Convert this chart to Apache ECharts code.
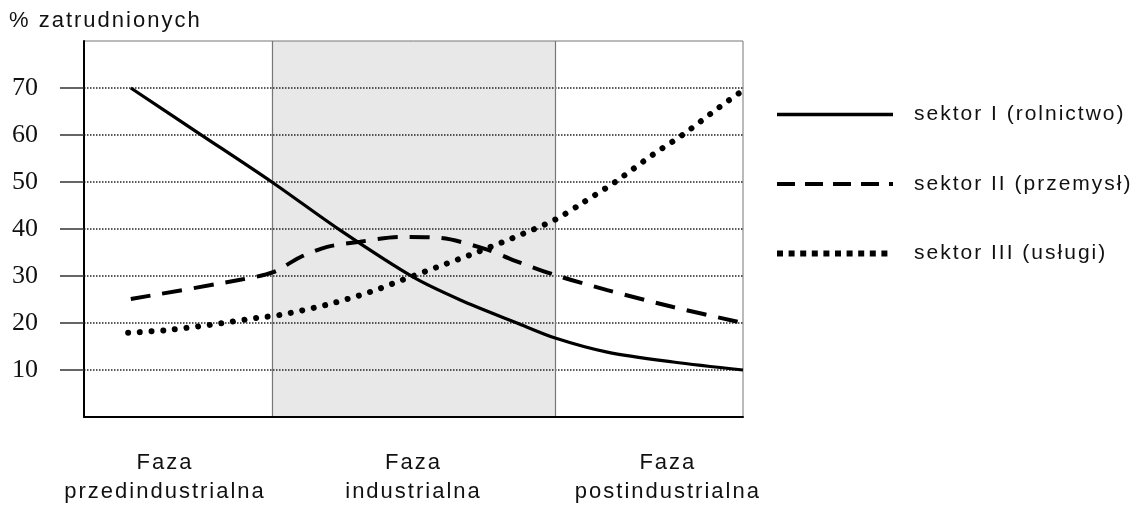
<!DOCTYPE html>
<html>
<head>
<meta charset="utf-8">
<script src="https://cdn.jsdelivr.net/npm/echarts@6/dist/echarts.min.js"></script>
<style>
html,body{margin:0;padding:0;background:#fff;}
#c{width:1140px;height:509px;}
</style>
</head>
<body>
<div id="c"></div>
<script>
// Data (x: position along the development axis, 0..100; y: % employed)
var yTicks = [10, 20, 30, 40, 50, 60, 70];
var phaseBounds = [28.5, 71.5];
var phasePos = [12.3, 50, 88.6];
var phaseLabels = ['Faza\nprzedindustrialna', 'Faza\nindustrialna', 'Faza\npostindustrialna'];
var seriesNames = ['sektor I (rolnictwo)', 'sektor II (przemysł)', 'sektor III (usługi)'];

var sektor1 = [[7.1,70],[17.6,60.2],[28.5,50],[38.8,39.8],[49.9,29.8],[57.1,24.9],[65.7,20.0],[71.5,16.8],[79.4,13.8],[89.4,11.7],[100,10]];
var sektor2 = [[7.1,25.1],[23.7,29.2],[28.7,30.8],[32.8,34],[36.9,36.2],[41.9,37.3],[48,38.3],[54,38.1],[61.2,35.6],[65.1,33.4],[71.5,30.2],[79.4,27],[89.4,23.4],[100,20]];
var sektor3 = [[6.7,17.9],[12.6,18.5],[19.1,19.6],[26.3,21.1],[29.7,21.7],[36.9,23.9],[43.4,26.6],[48.4,29.2],[53.6,31.9],[58.6,34.5],[65.1,38.1],[71.5,42],[75.7,45.6],[80.6,50],[86.3,55.8],[90.9,60.1],[96.5,66],[99.5,69]];

// Wide-tracked sans text like the original (canvas letter spacing for the sans labels)
(function () {
  var P = window.CanvasRenderingContext2D && CanvasRenderingContext2D.prototype;
  if (!P || !('letterSpacing' in P)) return;
  var ft = P.fillText, mt = P.measureText;
  function ls(ctx) { ctx.letterSpacing = /Liberation Sans/.test(ctx.font) ? '2px' : '0px'; }
  P.fillText = function () { ls(this); return ft.apply(this, arguments); };
  P.measureText = function () { ls(this); return mt.apply(this, arguments); };
})();

var SANS = 'Liberation Sans';
var chart = echarts.init(document.getElementById('c'), null, {renderer:'canvas'});
var option = {
  animation: false,
  backgroundColor: '#fff',
  textStyle: {fontFamily: SANS},
  grid: {left: 84, right: 397, top: 41, bottom: 92, show: true, z: 2, borderColor: '#777', borderWidth: 1, backgroundColor: 'transparent'},
  graphic: [{
    type: 'text', left: 9, top: 9,
    style: {text: '% zatrudnionych', fontFamily: SANS, fontSize: 22, fill: '#111'}
  }],
  legend: {
    orient: 'vertical', left: 769, top: 98,
    itemWidth: 116, itemHeight: 24, itemGap: 46.5,
    itemStyle: {opacity: 0},
    data: [
      {name: seriesNames[0], lineStyle: {color: '#000', width: 3.5, type: 'solid', cap: 'butt'}},
      {name: seriesNames[1], lineStyle: {color: '#000', width: 4, type: [18, 10], cap: 'butt'}},
      {name: seriesNames[2], lineStyle: {color: '#000', width: 6, type: [6, 5.6], cap: 'butt'}}
    ],
    textStyle: {fontFamily: SANS, fontSize: 21, color: '#111', padding: [0,0,0,16]}
  },
  xAxis: {
    type: 'value', min: 0, max: 100, z: 2,
    axisLine: {show: true, lineStyle: {color: '#000', width: 2}},
    axisTick: {show: false},
    splitLine: {show: false},
    axisLabel: {
      customValues: phasePos, margin: 31,
      fontFamily: SANS, fontSize: 22, color: '#111', lineHeight: 29, align: 'center',
      formatter: function (v) {
        var best = 0;
        for (var i = 1; i < phasePos.length; i++) if (Math.abs(phasePos[i]-v) < Math.abs(phasePos[best]-v)) best = i;
        return phaseLabels[best];
      }
    }
  },
  yAxis: {
    type: 'value', min: 0, max: 80, interval: 10, z: 2,
    axisLine: {show: true, lineStyle: {color: '#000', width: 2}},
    axisTick: {show: true, customValues: yTicks, length: 24, lineStyle: {color: '#333', width: 1.5}},
    axisLabel: {customValues: yTicks, margin: 46, fontFamily: 'Liberation Serif', fontSize: 26, color: '#111'},
    splitLine: {show: true, lineStyle: {color: '#222', type: [1.5, 1.5], width: 1.5}}
  },
  series: [
    {
      name: 'shade', type: 'line', data: [], z: 1, silent: true,
      markArea: {silent: true, z: 1, itemStyle: {color: '#e8e8e8'},
        data: [[{xAxis: phaseBounds[0]}, {xAxis: phaseBounds[1]}]]},
      markLine: {silent: true, z: 2, symbol: 'none', label: {show: false},
        lineStyle: {color: '#777', type: 'solid', width: 1.2},
        data: [{xAxis: phaseBounds[0]}, {xAxis: phaseBounds[1]}]}
    },
    {
      name: seriesNames[0], type: 'line', data: sektor1, smooth: 0.3, symbol: 'none', z: 3,
      itemStyle: {color: '#000'}, lineStyle: {color: '#000', width: 3.2}
    },
    {
      name: seriesNames[1], type: 'line', data: sektor2, smooth: 0.3, symbol: 'none', z: 3,
      itemStyle: {color: '#000'}, lineStyle: {color: '#000', width: 4, type: [20, 12]}
    },
    {
      name: seriesNames[2], type: 'line', data: sektor3, smooth: 0.3, symbol: 'none', z: 3,
      itemStyle: {color: '#000'}, lineStyle: {color: '#000', width: 6, type: [0.01, 11.7], cap: 'round'}
    }
  ]
};
chart.setOption(option);
</script>
</body>
</html>
